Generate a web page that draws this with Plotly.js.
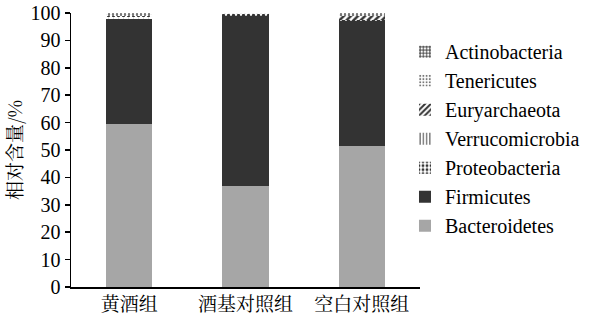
<!DOCTYPE html>
<html>
<head>
<meta charset="utf-8">
<script src="https://cdn.plot.ly/plotly-3.0.1.min.js"></script>
<style>html,body{margin:0;padding:0;background:#fff;}#chart{width:602px;height:321px;}</style>
</head>
<body>
<div id="chart"></div>
<script>
const groups = ["黄酒组", "酒基对照组", "空白对照组"];
const bacteroidetes = [59.5, 36.8, 51.4];
const firmicutes = [38.3, 62.2, 45.8];
const proteobacteria = [1.2, 0.6, 0.3];
const verrucomicrobia = [0.1, 0.1, 0.05];
const euryarchaeota = [0.1, 0.05, 1.5];
const tenericutes = [0.6, 0.2, 0.5];
const actinobacteria = [0.2, 0.05, 0.45];

const seriesNames = ["Bacteroidetes", "Firmicutes", "Proteobacteria", "Verrucomicrobia", "Euryarchaeota", "Tenericutes", "Actinobacteria"];
const seriesValues = [bacteroidetes, firmicutes, proteobacteria, verrucomicrobia, euryarchaeota, tenericutes, actinobacteria];
const styles = [
  {color: "#a6a6a6", pattern: {shape: ""}},
  {color: "#333333", pattern: {shape: ""}},
  {color: "#ffffff", pattern: {shape: ".", fgcolor: "#333333", bgcolor: "#ffffff", size: 5, solidity: 0.4}},
  {color: "#ffffff", pattern: {shape: "|", fgcolor: "#333333", bgcolor: "#ffffff", size: 4, solidity: 0.3}},
  {color: "#ffffff", pattern: {shape: "/", fgcolor: "#333333", bgcolor: "#ffffff", size: 5, solidity: 0.5}},
  {color: "#ffffff", pattern: {shape: ".", fgcolor: "#777777", bgcolor: "#ffffff", size: 4, solidity: 0.3}},
  {color: "#ffffff", pattern: {shape: "+", fgcolor: "#333333", bgcolor: "#ffffff", size: 4, solidity: 0.5}}
];

const traces = seriesNames.map((n, i) => ({
  type: "bar",
  name: n,
  x: groups,
  y: seriesValues[i],
  marker: {color: styles[i].color, pattern: styles[i].pattern, line: {width: 0}},
  hoverinfo: "skip"
}));

const cjk = "Noto Serif CJK SC, Noto Sans CJK SC, sans-serif";
const layout = {
  width: 602, height: 321,
  margin: {l: 71, r: 182, t: 13, b: 34},
  barmode: "stack",
  bargap: 0.6,
  paper_bgcolor: "#ffffff",
  plot_bgcolor: "#ffffff",
  font: {family: "Liberation Serif, Times New Roman, serif", color: "#000000", size: 20},
  xaxis: {
    showline: true, linecolor: "#000000", linewidth: 1.5,
    ticks: "", showgrid: false,
    tickfont: {family: cjk, size: 19, color: "#000"},
    fixedrange: true
  },
  yaxis: {
    range: [0, 100], dtick: 10, tick0: 0,
    showline: true, linecolor: "#000000", linewidth: 1.5,
    ticks: "outside", ticklen: 5, tickwidth: 1.5, tickcolor: "#000",
    showgrid: false, zeroline: false,
    tickfont: {family: "Liberation Serif, serif", size: 20, color: "#000"},
    title: {text: "相对含量/%", font: {family: cjk, size: 19, color: "#000"}, standoff: 4},
    fixedrange: true
  },
  legend: {
    traceorder: "reversed",
    x: 0.957, xanchor: "left",
    y: 0.93, yanchor: "top",
    font: {family: "Liberation Serif, serif", size: 20, color: "#000"},
    bgcolor: "rgba(0,0,0,0)"
  },
  showlegend: true
};

Plotly.newPlot("chart", traces, layout, {displayModeBar: false, staticPlot: true});
</script>
</body>
</html>
